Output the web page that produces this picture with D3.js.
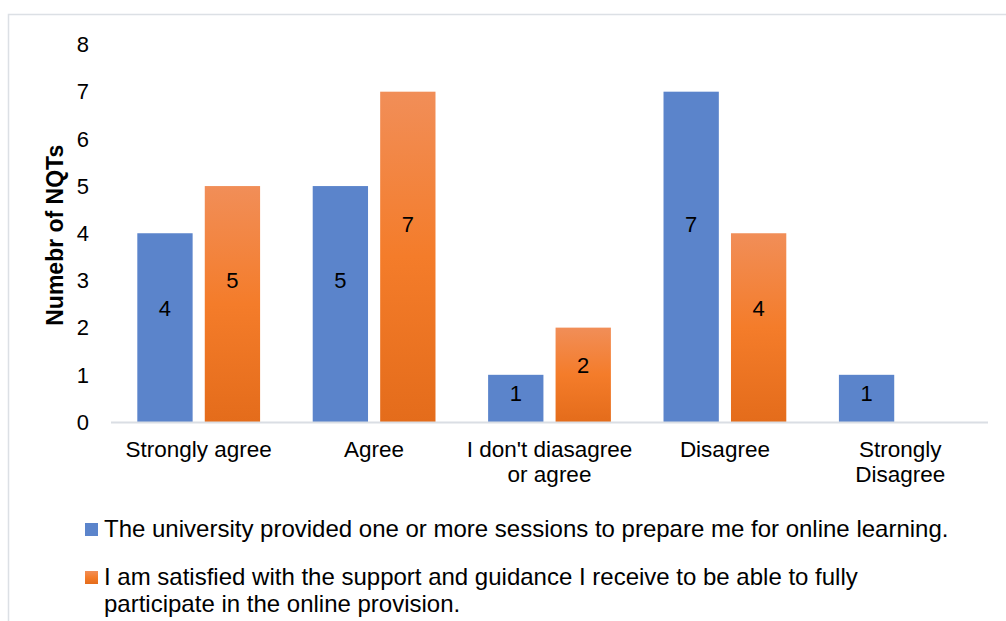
<!DOCTYPE html>
<html>
<head>
<meta charset="utf-8">
<script src="https://cdn.jsdelivr.net/npm/d3@7"></script>
<style>
  html, body { margin: 0; padding: 0; background: #ffffff; }
  svg { display: block; font-family: "Liberation Sans", Arial, sans-serif; }
</style>
</head>
<body>
<svg id="chart" width="1006" height="621"></svg>
<script>
// Survey responses: number of NQTs per answer, for two statements
const categories = ["Strongly agree", "Agree", "I don't diasagree\nor agree", "Disagree", "Strongly\nDisagree"];
const seriesNames = [
  "The university provided one or more sessions to prepare me for online learning.",
  "I am satisfied with the support and guidance I receive to be able to fully\nparticipate in the online provision."
];
const sessionsValues = [4, 5, 1, 7, 1];
const supportValues = [5, 7, 2, 4, 0];
const yTicks = [0, 1, 2, 3, 4, 5, 6, 7, 8];
const yTitle = "Numebr of NQTs";

const svg = d3.select("#chart");
const defs = svg.append("defs");

// Orange fill fades from a lighter top to a deeper bottom
const grad = defs.append("linearGradient")
  .attr("id", "orangeGrad").attr("x1", 0).attr("y1", 0).attr("x2", 0).attr("y2", 1);
grad.append("stop").attr("offset", "0%").attr("stop-color", "#F18E58");
grad.append("stop").attr("offset", "50%").attr("stop-color", "#F47C2A");
grad.append("stop").attr("offset", "100%").attr("stop-color", "#E46C1B");

const colors = ["#5B84CB", "url(#orangeGrad)"];

// Chart frame (runs off the right and bottom edges)
svg.append("path")
  .attr("d", "M8.5,1000 L8.5,14.5 L1100,14.5")
  .attr("fill", "none")
  .attr("stroke", "#DCE0E5")
  .attr("stroke-width", 1.5);

const x0 = d3.scaleBand()
  .domain(d3.range(categories.length))
  .range([111, 988])
  .paddingInner(0.3)
  .paddingOuter(0.15);

const x1 = d3.scaleBand()
  .domain([0, 1])
  .range([0, x0.bandwidth()])
  .paddingInner(0.18);

const y = d3.scaleLinear().domain([0, 8]).range([422, 44.5]);

// Y tick labels
svg.append("g").selectAll("text")
  .data(yTicks)
  .join("text")
  .attr("x", 89)
  .attr("y", d => y(d))
  .attr("dy", "0.35em")
  .attr("text-anchor", "end")
  .attr("font-size", 22)
  .attr("fill", "#000")
  .text(d => d);

// Y axis title
svg.append("text")
  .attr("transform", `translate(63,${y(4) + 2}) rotate(-90)`)
  .attr("text-anchor", "middle")
  .attr("font-size", 23)
  .attr("font-weight", "bold")
  .attr("fill", "#000")
  .text(yTitle);

// Bars
const seriesValues = [sessionsValues, supportValues];
const groups = svg.append("g").selectAll("g")
  .data(categories.map((c, i) => ({ i, vals: seriesValues.map(s => s[i]) })))
  .join("g")
  .attr("transform", d => `translate(${x0(d.i)},0)`);

groups.selectAll("rect")
  .data(d => d.vals.map((v, s) => ({ v, s })).filter(e => e.v > 0))
  .join("rect")
  .attr("x", e => x1(e.s))
  .attr("y", e => y(e.v))
  .attr("width", x1.bandwidth())
  .attr("height", e => y(0) - y(e.v))
  .attr("fill", e => colors[e.s]);

// Value labels inside bars
groups.selectAll("text")
  .data(d => d.vals.map((v, s) => ({ v, s })).filter(e => e.v > 0))
  .join("text")
  .attr("x", e => x1(e.s) + x1.bandwidth() / 2)
  .attr("y", e => y(e.v * 0.6))
  .attr("dy", "0.35em")
  .attr("text-anchor", "middle")
  .attr("font-size", 22)
  .attr("fill", "#000")
  .text(e => e.v);

// Baseline
svg.append("line")
  .attr("x1", 111).attr("x2", 988)
  .attr("y1", y(0) + 0.5).attr("y2", y(0) + 0.5)
  .attr("stroke", "#DADEE4")
  .attr("stroke-width", 2);

// Category labels
const catText = svg.append("g").selectAll("text")
  .data(categories)
  .join("text")
  .attr("x", (d, i) => x0(i) + x0.bandwidth() / 2)
  .attr("y", 457)
  .attr("text-anchor", "middle")
  .attr("font-size", 22.5)
  .attr("fill", "#000");
catText.selectAll("tspan")
  .data(d => d.split("\n"))
  .join("tspan")
  .attr("x", function () { return d3.select(this.parentNode).attr("x"); })
  .attr("dy", (d, i) => i === 0 ? 0 : 25)
  .text(d => d);

// Legend
const legendRows = [537, 585];
seriesNames.forEach((name, s) => {
  const by = legendRows[s];
  svg.append("rect")
    .attr("x", 85).attr("y", by - 14)
    .attr("width", 13).attr("height", 13)
    .attr("fill", colors[s]);
  const t = svg.append("text")
    .attr("x", 104).attr("y", by)
    .attr("font-size", 24)
    .attr("fill", "#000");
  t.selectAll("tspan")
    .data(name.split("\n"))
    .join("tspan")
    .attr("x", 104)
    .attr("dy", (d, i) => i === 0 ? 0 : 27)
    .text(d => d);
});
</script>
</body>
</html>
